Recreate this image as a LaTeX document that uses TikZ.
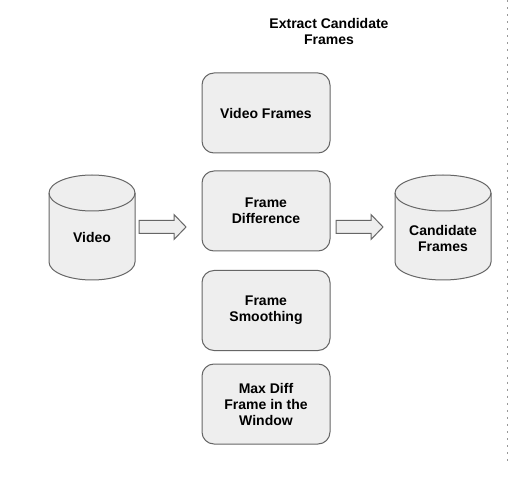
\documentclass[tikz,border=0pt]{standalone}
\usepackage{fontspec}
\setmainfont{Liberation Sans}
\definecolor{boxfill}{HTML}{EEEEEE}
\definecolor{boxline}{HTML}{666666}
\definecolor{dotline}{HTML}{999999}
\begin{document}
\begin{tikzpicture}[x=0.75pt,y=0.75pt,
  lbl/.style={font=\fontsize{10.5}{12}\selectfont\bfseries, align=center, text=black},
  procbox/.style={draw=boxline, fill=boxfill, line width=0.75pt, rounded corners=9pt,
    minimum width=96pt, minimum height=60pt, lbl},
  cyl/.style={draw=boxline, fill=boxfill, line width=0.75pt},
  blockarrow/.pic={\draw[draw=boxline, fill=boxfill, line width=0.75pt]
    (0,6.5) -- (35,6.5) -- (35,12.5) -- (47,0) -- (35,-12.5) -- (35,-6.5) -- (0,-6.5) -- cycle;}
  ]
\useasboundingbox[fill=white] (0,0) rectangle (508,-478);

% title
\node[lbl] (title) at (329,-31) {Extract Candidate\\Frames};

% process boxes
\node[procbox] (vf) at (266,-113) {Video Frames};
\node[procbox] (fd) at (266,-211) {Frame\\Difference};
\node[procbox] (fs) at (266,-310.5) {Frame\\Smoothing};
\node[procbox] (md) at (266,-404) {Max Diff\\Frame in the\\Window};

% Video cylinder
\draw[cyl] (49,-193) -- (49,-262) arc (180:360:43 and 18) -- (135,-193) arc (0:180:43 and 18) -- cycle;
\draw[cyl, fill=none] (49,-193) arc (180:360:43 and 18);
\node[lbl] (video) at (92,-237) {Video};

% Candidate Frames cylinder
\draw[cyl] (395,-193) -- (395,-262) arc (180:360:48 and 18) -- (491,-193) arc (0:180:48 and 18) -- cycle;
\draw[cyl, fill=none] (395,-193) arc (180:360:48 and 18);
\node[lbl] (cand) at (443,-238) {Candidate\\Frames};

% block arrows
\coordinate (a1) at (139,-227);
\coordinate (a2) at (336,-227);
\pic at (a1) {blockarrow};
\pic at (a2) {blockarrow};

% dotted separator
\coordinate (d1) at (507.5,0);
\coordinate (d2) at (507.5,-463);
\draw[dotline, line width=0.75pt, dash pattern=on 1.5pt off 3.8pt] (d1) -- (d2);
\end{tikzpicture}
\end{document}
